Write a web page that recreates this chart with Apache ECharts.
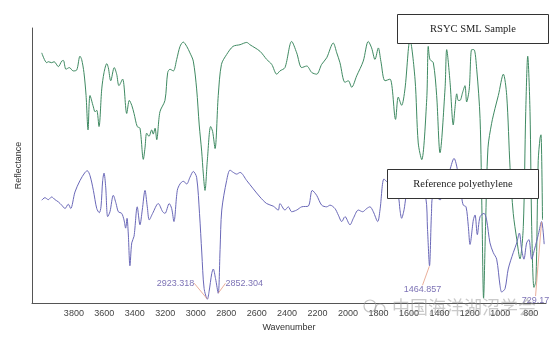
<!DOCTYPE html>
<html>
<head>
<meta charset="utf-8">
<script src="https://cdn.jsdelivr.net/npm/echarts@6/dist/echarts.min.js"></script>
<style>
  html, body { margin: 0; padding: 0; background: #fff; }
  #chart { width: 557px; height: 337px; }
</style>
</head>
<body>
<div id="chart"></div>
<script>
// FTIR reflectance spectra (arbitrary units), wavenumber in cm-1
const sampleWavenumber = [4011,3978,3968,3946,3930,3902,3880,3869,3852,3830,3804,3781,3760,3749,3734,3720,3707,3694,3672,3661,3650,3635,3617,3602,3584,3574,3558,3535,3519,3504,3480,3453,3436,3420,3405,3384,3366,3344,3333,3322,3307,3289,3279,3267,3256,3235,3202,3184,3169,3147,3125,3103,3082,3059,3038,3016,2994,2977,2961,2950,2939,2924,2902,2889,2873,2852,2831,2797,2755,2709,2665,2644,2578,2534,2501,2468,2447,2414,2370,2337,2304,2271,2238,2206,2173,2140,2097,2074,2053,2020,1998,1976,1943,1900,1867,1845,1823,1801,1784,1757,1724,1688,1670,1648,1626,1593,1560,1539,1516,1483,1473,1462,1440,1418,1396,1363,1352,1330,1309,1298,1286,1276,1265,1247,1232,1221,1204,1188,1173,1155,1133,1120,1110,1097,1081,1057,1035,1013,980,958,936,915,892,871,849,833,820,805,794,779,766,751,739,733,723];
const sampleReflectance = [254.7,244.7,245.7,244.7,245.7,240.7,246.3,247,238,239.7,236.3,237.3,251.3,248,234.7,211.3,176.3,211.3,199.7,194.7,196.3,179.7,218,234.7,243.7,239.7,226.3,239.7,233,221.3,228,193,206.3,201.3,193,179.7,178,146.3,158,173,169.7,176.3,172,178,166.3,194.7,206.3,234.7,238,236.3,248,261.3,265.7,261.3,254.7,246.3,218,181.3,154.7,131.3,114.7,144.7,179.7,174.7,157.3,211.3,243,253,261.3,263,265.3,263,256.3,248,243,233,236.3,239.7,266.3,254.7,239.7,241.3,234.7,233,243,249.7,264.7,254.7,244.7,224.7,226.3,219.7,231.3,246.3,266.3,259.7,248,259.7,246,226.3,228,187,209.7,201.3,218,268,228,163,146,208,261.3,248,244.7,211.3,153,218,258,224.7,181.3,198,213,206.3,206.3,214.7,221.3,204.7,218,258,258,238,188,88,5,78,158,183,198,211.3,233,211.3,138,91.3,65,45,78,195,251.3,195,78,16,23,145,168,171.3,85];

const refWavenumber = [4011,3990,3968,3946,3924,3902,3880,3858,3837,3821,3793,3760,3727,3712,3694,3672,3650,3633,3622,3611,3602,3591,3578,3563,3541,3523,3508,3486,3471,3460,3451,3443,3432,3420,3405,3384,3366,3351,3333,3318,3305,3283,3246,3217,3202,3174,3158,3143,3121,3103,3082,3059,3038,3016,2994,2975,2960,2945,2923.318,2912,2895,2885,2870,2852.304,2840,2829,2797,2775,2753,2731,2709,2665,2622,2578,2534,2491,2458,2447,2414,2392,2370,2337,2304,2261,2235,2206,2173,2140,2118,2086,2064,2041,2020,1987,1965,1932,1904,1877,1856,1834,1805,1790,1764,1742,1711,1670,1659,1648,1632,1619,1593,1560,1527,1490,1478,1464.857,1452,1442,1407,1396,1363,1330,1304,1278,1254,1243,1225,1210,1199,1177,1166,1151,1133,1107,1090,1068,1046,1024,1002,991,969,948,915,892,875,860,845,827,812,794,775,750,729.17,712];
const refReflectance = [104.7,107.3,105.3,108,105.3,103,99.7,96.3,100.7,96.3,113,124.7,133,134.7,129.7,114.7,96.3,92,98,124.7,132.3,118,88,93,109.7,101.3,93,91.3,84.7,76.3,86.3,71.3,38,61.3,68,98,79.7,94.7,114.7,98,84.7,91.3,101.3,93,91.3,101.3,96.3,83,114.7,121.3,124,121.3,128,134,128,91,51,15,4,12,30,34.7,25,10,54.7,94.7,124.7,135.3,133,131.3,133,124.7,116.3,108,101.3,98.7,94.7,101.3,94.7,98,93,94.7,98,98.7,114.7,109.7,99.7,98,99.7,96.3,89.7,83,88,79.7,86.3,94.7,93,96.3,98,93,83,94.7,126.3,123,118,108,95,86.3,95,108,120,123,116,108,75,38,91.3,108,106.3,105,118,136,147.3,133,108,99.7,98,78,59.7,84.7,89.7,69.7,88,91.3,84.7,61.3,51.3,44.7,18,11.3,14.7,34.7,51.3,61.3,71.3,54.7,44.7,61.3,64.7,44.7,55,70,83,60];

// labelled absorption bands of the reference spectrum
const peakWavenumber = [2923.318, 2852.304, 1464.857, 729.17];
const peakText = ['2923.318', '2852.304', '1464.857', '729.17'];

const xTicks = [3800,3600,3400,3200,3000,2800,2600,2400,2200,2000,1800,1600,1400,1200,1000,800];

const zip = (xs, ys) => xs.map((x, i) => [x, ys[i]]);
const peakData = peakWavenumber.map((w, i) => {
  const j = refWavenumber.indexOf(w);
  return { value: [w, refReflectance[j]], name: peakText[i] };
});
// label offsets (px) from each band point
const peakOffsets = [[-32, -16], [26, -10], [-7, 24], [-6, 79]];

const chart = echarts.init(document.getElementById('chart'), null, { renderer: 'canvas' });
chart.setOption({
  animation: false,
  backgroundColor: '#fff',
  grid: { left: 32, right: 11, top: 28, bottom: 29 },
  xAxis: {
    type: 'value', inverse: true, min: 700, max: 4075,
    name: 'Wavenumber', nameLocation: 'middle', nameGap: 15,
    nameTextStyle: { fontSize: 9, color: '#333', fontFamily: 'Liberation Sans' },
    axisLine: { show: true, onZero: false, lineStyle: { color: '#555', width: 1 } },
    axisTick: { show: false },
    splitLine: { show: false },
    axisLabel: { customValues: xTicks, formatter: v => String(v), fontSize: 9, color: '#444', margin: 6, fontFamily: 'Liberation Sans' }
  },
  yAxis: {
    type: 'value', min: 0, max: 280,
    name: 'Reflectance', nameLocation: 'middle', nameGap: 9, nameRotate: 90,
    nameTextStyle: { fontSize: 9, color: '#333', fontFamily: 'Liberation Sans' },
    axisLine: { show: true, lineStyle: { color: '#555', width: 1 } },
    axisTick: { show: false }, axisLabel: { show: false }, splitLine: { show: false }
  },
  series: [
    {
      name: 'RSYC SML Sample', type: 'line', data: zip(sampleWavenumber, sampleReflectance),
      showSymbol: false, smooth: 0.3, lineStyle: { color: '#3f8a62', width: 1 }, z: 2
    },
    {
      name: 'Reference polyethylene', type: 'line', data: zip(refWavenumber, refReflectance),
      showSymbol: false, smooth: 0.3, lineStyle: { color: '#6a68b8', width: 1 }, z: 3
    },
    {
      name: 'bands', type: 'scatter', data: peakData, symbolSize: 1, itemStyle: { color: 'rgba(0,0,0,0)' },
      z: 4,
      label: {
        show: true, position: 'inside', formatter: p => p.name,
        fontSize: 9, color: '#5b4fa3', fontFamily: 'Liberation Sans'
      },
      labelLine: { show: true, lineStyle: { color: '#e49a80', width: 0.8 } },
      labelLayout: p => ({ dx: peakOffsets[p.dataIndex][0], dy: peakOffsets[p.dataIndex][1] })
    }
  ],
  graphic: [
    { type: 'rect', z: 100, shape: { x: 397.5, y: 14.5, width: 151, height: 29 },
      style: { fill: '#fff', stroke: '#333', lineWidth: 1 } },
    { type: 'text', z: 101, x: 473, y: 29.5,
      style: { text: 'RSYC SML Sample', fontSize: 10.5, fontFamily: 'Liberation Serif', fill: '#222', align: 'center', verticalAlign: 'middle' } },
    { type: 'rect', z: 100, shape: { x: 387.5, y: 169.5, width: 151, height: 29 },
      style: { fill: '#fff', stroke: '#333', lineWidth: 1 } },
    { type: 'text', z: 101, x: 463, y: 184.5,
      style: { text: 'Reference polyethylene', fontSize: 10.5, fontFamily: 'Liberation Serif', fill: '#222', align: 'center', verticalAlign: 'middle' } },
    // faint watermark along the bottom edge
    { type: 'circle', z: 120, shape: { cx: 370, cy: 306, r: 6 }, style: { fill: 'none', stroke: 'rgba(150,150,150,0.55)', lineWidth: 1.2 } },
    { type: 'circle', z: 120, shape: { cx: 380, cy: 309, r: 5 }, style: { fill: 'none', stroke: 'rgba(150,150,150,0.55)', lineWidth: 1.2 } },
    { type: 'text', z: 120, x: 392, y: 307,
      style: { text: '中国海洋湖沼学会', fontSize: 18, fontFamily: 'Noto Sans CJK SC', fill: 'rgba(150,150,150,0.5)', verticalAlign: 'middle' } }
  ]
});
</script>
</body>
</html>
